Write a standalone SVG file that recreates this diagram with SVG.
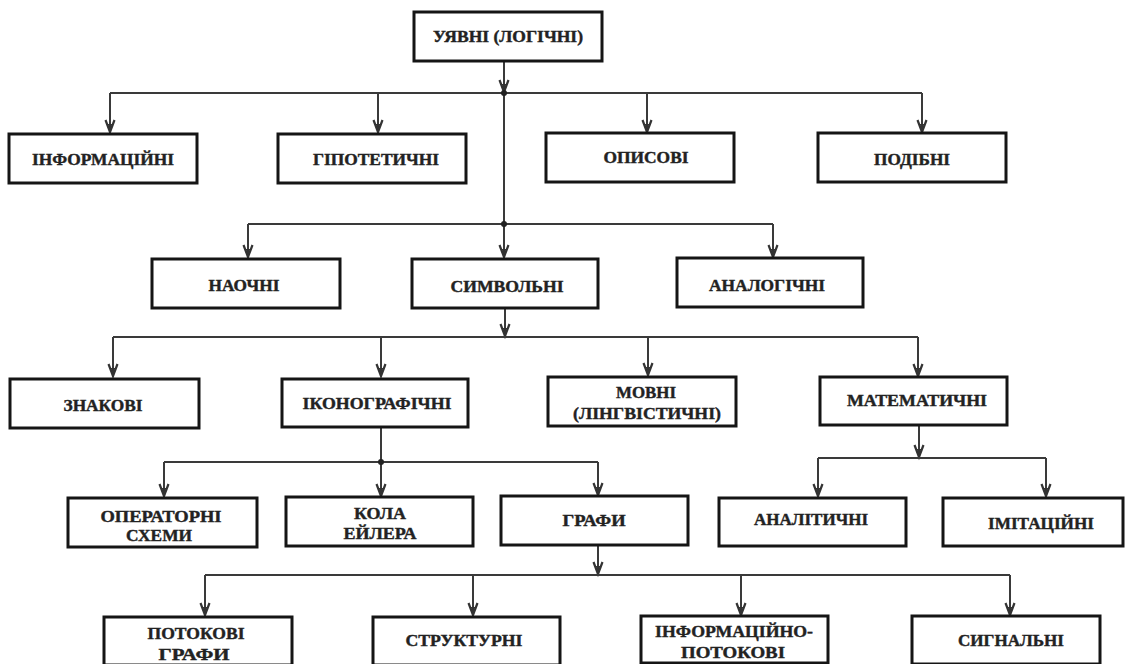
<svg xmlns="http://www.w3.org/2000/svg" width="1125" height="664" viewBox="0 0 1125 664">
<style>
.box{fill:#fff;stroke:#151515;stroke-width:3}
.t{font-family:"Liberation Serif","Times New Roman",serif;font-weight:bold;font-size:16px;fill:#222;stroke:#222;stroke-width:0.4;text-anchor:middle}
.c{fill:none;stroke:#3a3a3a;stroke-width:2}
.a{fill:none;stroke:#3a3a3a;stroke-width:2;marker-end:url(#ah)}
.d{fill:#222}
</style>
<defs>
<marker id="ah" markerUnits="userSpaceOnUse" markerWidth="14" markerHeight="12" refX="0" refY="0" orient="auto" overflow="visible">
<path d="M-12,-4.5 L0,0 L-12,4.5" fill="none" stroke="#333" stroke-width="2.2"/>
<path d="M-8,-2.2 L0,0 L-8,2.2 z" fill="#333"/>
</marker>
</defs>
<rect width="1125" height="664" fill="#fff"/>
<g id="connectors">
<path class="a" d="M504,61 V92"/>
<path class="c" d="M110,93 H922"/>
<path class="a" d="M110,93 V132"/>
<path class="a" d="M378,93 V132"/>
<path class="a" d="M647,93 V132"/>
<path class="a" d="M922,93 V132"/>
<path class="c" d="M504,93 V224"/>
<path class="a" d="M504,224 V257"/>
<path class="c" d="M248,224 H773"/>
<path class="a" d="M248,224 V257"/>
<path class="a" d="M773,224 V257"/>
<path class="a" d="M505,308 V336"/>
<path class="c" d="M113,337 H918"/>
<path class="a" d="M113,337 V376"/>
<path class="a" d="M381,337 V376"/>
<path class="a" d="M648,337 V375"/>
<path class="a" d="M918,337 V376"/>
<path class="c" d="M381,427 V462"/>
<path class="c" d="M164,462 H598"/>
<path class="a" d="M164,462 V496"/>
<path class="a" d="M381,462 V496"/>
<path class="a" d="M598,462 V495"/>
<path class="a" d="M919,425 V457"/>
<path class="c" d="M818,458 H1046"/>
<path class="a" d="M818,458 V496"/>
<path class="a" d="M1046,458 V496"/>
<path class="a" d="M598,545 V574"/>
<path class="c" d="M205,575 H1010"/>
<path class="a" d="M205,575 V615"/>
<path class="a" d="M473,575 V615"/>
<path class="a" d="M741,575 V615"/>
<path class="a" d="M1010,575 V615"/>
<circle class="d" cx="504" cy="93" r="3"/>
<circle class="d" cx="504" cy="224" r="3"/>
<circle class="d" cx="381" cy="462" r="3"/>
</g>
<g id="n-uyavni"><rect class="box" x="414" y="12" width="188" height="49"/><text class="t" x="508" y="42" textLength="150" lengthAdjust="spacingAndGlyphs">УЯВНІ (ЛОГІЧНІ)</text></g>
<g id="n-informatsiini"><rect class="box" x="9" y="134" width="188" height="49"/><text class="t" x="103" y="165" textLength="142" lengthAdjust="spacingAndGlyphs">ІНФОРМАЦІЙНІ</text></g>
<g id="n-hipotetychni"><rect class="box" x="278" y="134" width="188" height="49"/><text class="t" x="376" y="165" textLength="126" lengthAdjust="spacingAndGlyphs">ГІПОТЕТИЧНІ</text></g>
<g id="n-opysovi"><rect class="box" x="546" y="133" width="188" height="49"/><text class="t" x="646" y="163" textLength="85" lengthAdjust="spacingAndGlyphs">ОПИСОВІ</text></g>
<g id="n-podibni"><rect class="box" x="818" y="133" width="188" height="49"/><text class="t" x="912" y="165" textLength="76" lengthAdjust="spacingAndGlyphs">ПОДІБНІ</text></g>
<g id="n-naochni"><rect class="box" x="152" y="259" width="188" height="49"/><text class="t" x="244" y="291" textLength="71" lengthAdjust="spacingAndGlyphs">НАОЧНІ</text></g>
<g id="n-symvolni"><rect class="box" x="412" y="259" width="186" height="49"/><text class="t" x="507" y="292" textLength="113" lengthAdjust="spacingAndGlyphs">СИМВОЛЬНІ</text></g>
<g id="n-analohichni"><rect class="box" x="677" y="258" width="186" height="49"/><text class="t" x="767" y="291" textLength="116" lengthAdjust="spacingAndGlyphs">АНАЛОГІЧНІ</text></g>
<g id="n-znakovi"><rect class="box" x="10" y="379" width="189" height="49"/><text class="t" x="103" y="411" textLength="79" lengthAdjust="spacingAndGlyphs">ЗНАКОВІ</text></g>
<g id="n-ikonohrafichni"><rect class="box" x="282" y="379" width="186" height="48"/><text class="t" x="377" y="409" textLength="149" lengthAdjust="spacingAndGlyphs">ІКОНОГРАФІЧНІ</text></g>
<g id="n-movni"><rect class="box" x="548" y="377" width="188" height="49"/><text class="t" x="646" y="398" textLength="60" lengthAdjust="spacingAndGlyphs">МОВНІ</text><text class="t" x="647" y="419" textLength="148" lengthAdjust="spacingAndGlyphs">(ЛІНГВІСТИЧНІ)</text></g>
<g id="n-matematychni"><rect class="box" x="820" y="377" width="187" height="48"/><text class="t" x="917" y="406" textLength="140" lengthAdjust="spacingAndGlyphs">МАТЕМАТИЧНІ</text></g>
<g id="n-operatorni"><rect class="box" x="68" y="498" width="189" height="49"/><text class="t" x="161" y="522" textLength="121" lengthAdjust="spacingAndGlyphs">ОПЕРАТОРНІ</text><text class="t" x="159" y="541" textLength="66" lengthAdjust="spacingAndGlyphs">СХЕМИ</text></g>
<g id="n-kola"><rect class="box" x="286" y="497" width="187" height="49"/><text class="t" x="380" y="519" textLength="52" lengthAdjust="spacingAndGlyphs">КОЛА</text><text class="t" x="380" y="539" textLength="73" lengthAdjust="spacingAndGlyphs">ЕЙЛЕРА</text></g>
<g id="n-hrafy"><rect class="box" x="501" y="496" width="187" height="49"/><text class="t" x="594" y="526" textLength="63" lengthAdjust="spacingAndGlyphs">ГРАФИ</text></g>
<g id="n-analitychni"><rect class="box" x="719" y="498" width="187" height="48"/><text class="t" x="811" y="525" textLength="114" lengthAdjust="spacingAndGlyphs">АНАЛІТИЧНІ</text></g>
<g id="n-imitatsiini"><rect class="box" x="943" y="498" width="180" height="48"/><text class="t" x="1041" y="529" textLength="106" lengthAdjust="spacingAndGlyphs">ІМІТАЦІЙНІ</text></g>
<g id="n-potokovi-hrafy"><rect class="box" x="104" y="617" width="188" height="48"/><text class="t" x="196" y="639" textLength="97" lengthAdjust="spacingAndGlyphs">ПОТОКОВІ</text><text class="t" x="194" y="660" textLength="71" lengthAdjust="spacingAndGlyphs">ГРАФИ</text></g>
<g id="n-strukturni"><rect class="box" x="373" y="617" width="187" height="48"/><text class="t" x="464" y="646" textLength="117" lengthAdjust="spacingAndGlyphs">СТРУКТУРНІ</text></g>
<g id="n-inf-potokovi"><rect class="box" x="641" y="616" width="187" height="47"/><text class="t" x="734" y="637" textLength="158" lengthAdjust="spacingAndGlyphs">ІНФОРМАЦІЙНО-</text><text class="t" x="733" y="658" textLength="104" lengthAdjust="spacingAndGlyphs">ПОТОКОВІ</text></g>
<g id="n-syhnalni"><rect class="box" x="912" y="616" width="188" height="48"/><text class="t" x="1011" y="646" textLength="106" lengthAdjust="spacingAndGlyphs">СИГНАЛЬНІ</text></g>
</svg>
